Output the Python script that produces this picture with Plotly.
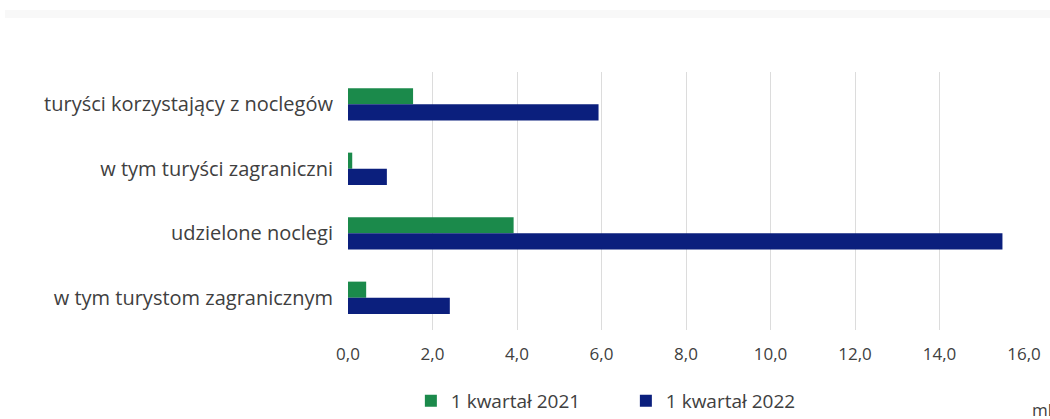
import plotly.graph_objects as go

categories = [
    "turyści korzystający z noclegów",
    "w tym turyści zagraniczni",
    "udzielone noclegi",
    "w tym turystom zagranicznym",
]
series_2021 = [1.54, 0.10, 3.92, 0.43]
series_2022 = [5.93, 0.92, 15.49, 2.41]
series_names = ["1 kwartał 2021", "1 kwartał 2022"]
tick_vals = [0, 2, 4, 6, 8, 10, 12, 14, 16]
unit_label = "mln"

GREEN = "#1b8a4b"
NAVY = "#0b1f7d"
TEXT = "#404040"
FONT = "Open Sans"

fig = go.Figure()
fig.add_trace(go.Bar(y=categories, x=series_2021, name=series_names[0],
                     orientation="h", marker=dict(color=GREEN, line=dict(width=0))))
fig.add_trace(go.Bar(y=categories, x=series_2022, name=series_names[1],
                     orientation="h", marker=dict(color=NAVY, line=dict(width=0))))

fig.update_layout(
    width=1050, height=419,
    margin=dict(l=348, r=26, t=72, b=89, autoexpand=False),
    paper_bgcolor="white", plot_bgcolor="white",
    barmode="group", bargap=0.5, bargroupgap=0,
    separators=", ",
    font=dict(family=FONT, size=18, color=TEXT),
    showlegend=True,
    legend=dict(orientation="h", x=0.093, xanchor="left", y=-0.275, yanchor="middle",
                font=dict(size=19, color=TEXT), itemwidth=30, traceorder="normal",
                entrywidth=170, entrywidthmode="pixels",
                bgcolor="rgba(0,0,0,0)"),
    xaxis=dict(range=[0, 16], tickvals=tick_vals, tickformat=".1f", automargin=False,
               showgrid=True, gridcolor="#dcdcdc", gridwidth=1,
               zeroline=False, showline=False, ticks="", ticklabelstandoff=12,
               tickfont=dict(size=17, color=TEXT)),
    yaxis=dict(autorange="reversed", showgrid=False, zeroline=False, showline=False,
               automargin=False,
               ticks="", ticklabelstandoff=14, tickfont=dict(size=20, color=TEXT)),
    shapes=[dict(type="rect", xref="paper", yref="paper",
                 x0=-343/676, x1=1.05, y0=1 + 54/258, y1=1 + 62/258,
                 fillcolor="#f8f8f8", line=dict(width=0), layer="below")],
    annotations=[dict(text=unit_label, xref="x", x=16, xanchor="left", xshift=6,
                      yref="paper", y=-0.31, yanchor="middle", showarrow=False,
                      font=dict(size=17, color=TEXT))],
)

fig.write_html("out.html", config={"displayModeBar": False},
               post_script="document.body.style.margin='0';")
